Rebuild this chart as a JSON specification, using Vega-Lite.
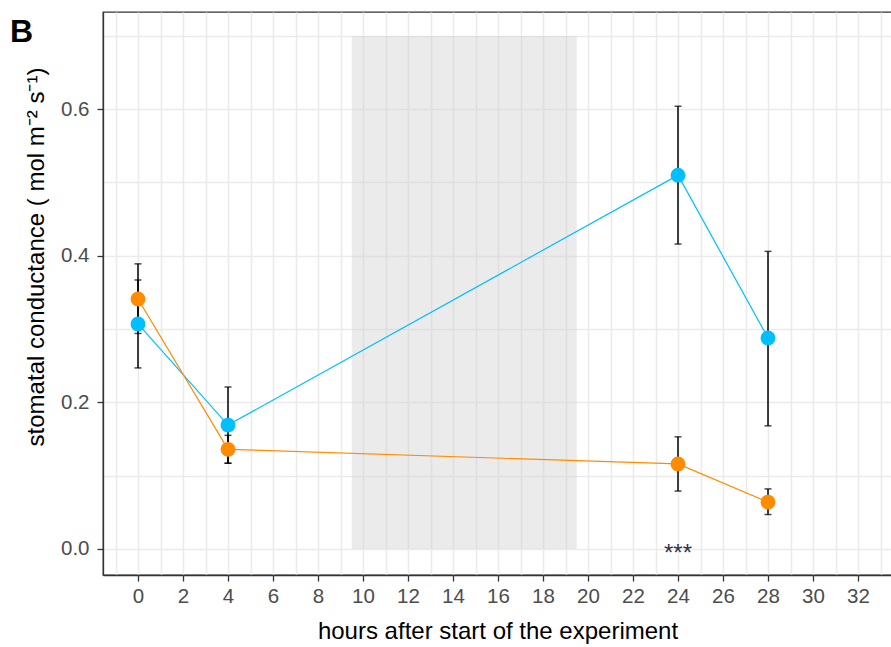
{
  "$schema": "https://vega.github.io/schema/vega-lite/v6.json",
  "width": 789,
  "height": 563,
  "autosize": {"type": "none"},
  "padding": {"left": 103, "top": 12, "right": 0, "bottom": 72},
  "background": "white",
  "title": {"text": "B", "orient": "none", "anchor": "start", "frame": "group", "dx": -93, "dy": 30, "offset": 0, "baseline": "alphabetic", "fontSize": 32, "fontWeight": "bold", "font": "Liberation Sans", "color": "black"},
  "config": {
    "font": "Liberation Sans",
    "view": {"stroke": "#333333", "strokeWidth": 1.3},
    "axis": {
      "gridColor": "#EBEBEB",
      "gridWidth": 1.6,
      "domainColor": "#333333",
      "domainWidth": 1.3,
      "tickColor": "#333333",
      "tickWidth": 1.3,
      "tickSize": 6,
      "labelColor": "#4D4D4D",
      "labelFontSize": 20.5,
      "labelFont": "Liberation Sans",
      "titleFont": "Liberation Sans",
      "titleFontSize": 24,
      "titleFontWeight": "normal",
      "titleColor": "black"
    }
  },
  "resolve": {"axis": {"x": "independent", "y": "independent"}},
  "datasets": {
    "obs": [
      {"hour": 0, "group": "blue", "mean": 0.307, "lo": 0.247, "hi": 0.367},
      {"hour": 4, "group": "blue", "mean": 0.169, "lo": 0.117, "hi": 0.221},
      {"hour": 24, "group": "blue", "mean": 0.510, "lo": 0.416, "hi": 0.604},
      {"hour": 28, "group": "blue", "mean": 0.288, "lo": 0.168, "hi": 0.406},
      {"hour": 0, "group": "orange", "mean": 0.341, "lo": 0.294, "hi": 0.389},
      {"hour": 4, "group": "orange", "mean": 0.136, "lo": 0.117, "hi": 0.155},
      {"hour": 24, "group": "orange", "mean": 0.116, "lo": 0.079, "hi": 0.153},
      {"hour": 28, "group": "orange", "mean": 0.064, "lo": 0.047, "hi": 0.082}
    ],
    "shade": [{"start": 9.5, "end": 19.5, "bottom": 0, "top": 0.7}],
    "sig": [{"hour": 24, "y": 0, "label": "***"}]
  },
  "layer": [
    {
      "data": {"name": "shade"},
      "mark": {"type": "rect", "fill": "#CCCCCC", "opacity": 0.4},
      "encoding": {
        "x": {
          "field": "start", "type": "quantitative",
          "scale": {"domain": [-1.5556, 33.511], "nice": false, "zero": false},
          "axis": {
            "orient": "top",
            "values": [-1,0,1,2,3,4,5,6,7,8,9,10,11,12,13,14,15,16,17,18,19,20,21,22,23,24,25,26,27,28,29,30,31,32,33],
            "grid": true, "labels": false, "ticks": false, "domain": false, "title": null
          }
        },
        "x2": {"field": "end"},
        "y": {
          "field": "bottom", "type": "quantitative",
          "scale": {"domain": [-0.0355, 0.7326], "nice": false, "zero": false},
          "axis": {
            "orient": "right",
            "values": [0, 0.1, 0.2, 0.3, 0.4, 0.5, 0.6, 0.7],
            "grid": true, "labels": false, "ticks": false, "domain": false, "title": null
          }
        },
        "y2": {"field": "top"}
      }
    },
    {
      "data": {"name": "obs"},
      "mark": {"type": "line", "strokeWidth": 1.2},
      "encoding": {
        "x": {
          "field": "hour", "type": "quantitative",
          "axis": {
            "orient": "bottom",
            "values": [0,2,4,6,8,10,12,14,16,18,20,22,24,26,28,30,32],
            "grid": false,
            "labelPadding": 5,
            "title": "hours after start of the experiment",
            "titleY": 63,
            "titleBaseline": "alphabetic"
          }
        },
        "y": {
          "field": "mean", "type": "quantitative",
          "axis": {
            "orient": "left",
            "values": [0, 0.2, 0.4, 0.6],
            "format": ".1f",
            "grid": false,
            "labelPadding": 8,
            "title": "stomatal conductance ( mol m⁻² s⁻¹)",
            "titleX": -60,
            "titleY": 244.5,
            "titleAngle": 270,
            "titleAlign": "center",
            "titleBaseline": "alphabetic"
          }
        },
        "color": {"field": "group", "type": "nominal", "scale": {"domain": ["blue", "orange"], "range": ["#00BFFF", "#FF8C00"]}, "legend": null}
      }
    },
    {
      "data": {"name": "obs"},
      "mark": {"type": "errorbar", "color": "black", "thickness": 1.5, "ticks": {"size": 7, "color": "black", "thickness": 1.5}},
      "encoding": {
        "x": {"field": "hour", "type": "quantitative", "axis": null},
        "y": {"field": "lo", "type": "quantitative", "axis": null},
        "y2": {"field": "hi"}
      }
    },
    {
      "data": {"name": "obs"},
      "mark": {"type": "point", "filled": true, "opacity": 1, "size": 220},
      "encoding": {
        "x": {"field": "hour", "type": "quantitative", "axis": null},
        "y": {"field": "mean", "type": "quantitative", "axis": null},
        "color": {"field": "group", "type": "nominal", "scale": {"domain": ["blue", "orange"], "range": ["#00BFFF", "#FF8C00"]}, "legend": null}
      }
    },
    {
      "data": {"name": "sig"},
      "mark": {"type": "text", "fontSize": 24, "color": "#333344", "baseline": "alphabetic", "dy": 12},
      "encoding": {
        "x": {"field": "hour", "type": "quantitative", "axis": null},
        "y": {"field": "y", "type": "quantitative", "axis": null},
        "text": {"field": "label"}
      }
    }
  ]
}
